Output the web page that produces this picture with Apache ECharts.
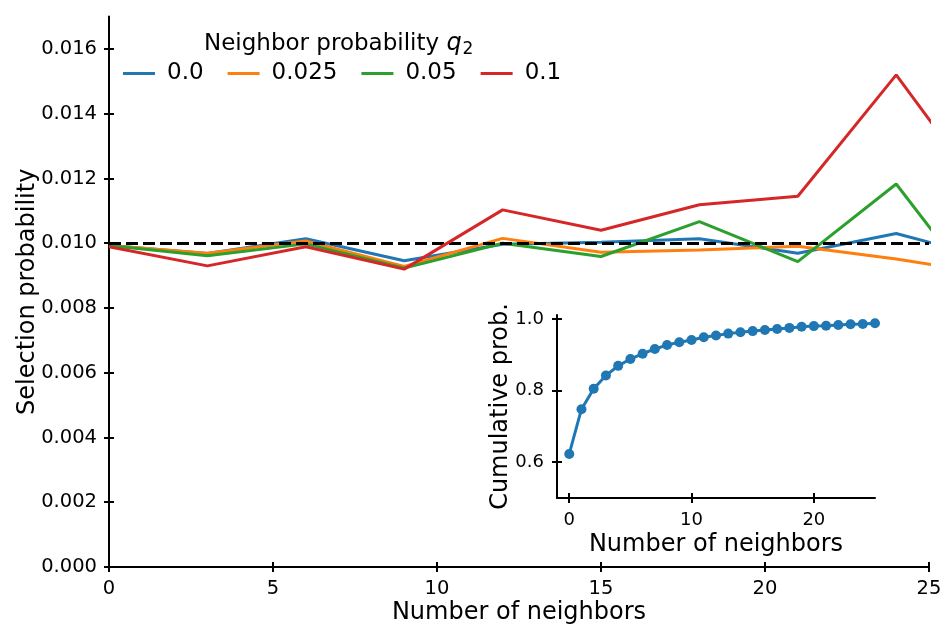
<!DOCTYPE html>
<html>
<head>
<meta charset="utf-8">
<script src="https://cdn.jsdelivr.net/npm/echarts@6/dist/echarts.min.js"></script>
<style>
html,body{margin:0;padding:0;background:#fff;}
#chart{width:943px;height:627px;}
</style>
</head>
<body>
<div id="chart"></div>
<script>
// ---- data ----
const neighbors = [0, 3, 6, 9, 12, 15, 18, 21, 24, 27];
const seriesNames = ['0.0', '0.025', '0.05', '0.1'];
const q0 = [0.00993, 0.00968, 0.01014, 0.00946, 0.00997, 0.01003, 0.01014, 0.00969, 0.01030, 0.00949];
const q025 = [0.00993, 0.00969, 0.01007, 0.00928, 0.01015, 0.00972, 0.00979, 0.00991, 0.00951, 0.00903];
const q05 = [0.00993, 0.00961, 0.00998, 0.00923, 0.01000, 0.00959, 0.01067, 0.00943, 0.01183, 0.00787];
const q1 = [0.00989, 0.00930, 0.00989, 0.00920, 0.01103, 0.01040, 0.01119, 0.01145, 0.01520, 0.01109];
const uniformProb = 0.01;
const mainXTicks = [0, 5, 10, 15, 20, 25];
const mainYTicks = [0, 0.002, 0.004, 0.006, 0.008, 0.010, 0.012, 0.014, 0.016];

const insetX = [0,1,2,3,4,5,6,7,8,9,10,11,12,13,14,15,16,17,18,19,20,21,22,23,24,25];
const insetCum = [0.623,0.748,0.805,0.842,0.869,0.888,0.903,0.916,0.927,0.935,0.941,0.949,0.954,0.959,0.963,0.966,0.969,0.972,0.975,0.978,0.980,0.981,0.983,0.985,0.986,0.988];
const insetXTicks = [0, 10, 20];
const insetYTicks = [0.6, 0.8, 1.0];

// ---- chart ----
const FONT = 'DejaVu Sans';
const colors = ['#1f77b4', '#ff7f0e', '#2ca02c', '#d62728'];
const mainSeries = [q0, q025, q05, q1];

function pairs(xs, ys) { return xs.map((x, i) => [x, ys[i]]); }

function visAxis(gridIndex, min, max, ticks, fmt, name, nameGap, pos, labelSize, margin) {
  return {
    type: 'value', gridIndex, min, max, position: pos,
    name, nameLocation: 'middle', nameGap, nameMoveOverlap: false,
    nameTextStyle: {fontFamily: FONT, fontSize: 24, color: '#000'},
    axisLine: {show: true, onZero: false, lineStyle: {color: '#000', width: 2}},
    axisTick: {show: true, length: 5, inside: false, lineStyle: {color: '#000', width: 2}, customValues: ticks},
    axisLabel: {show: true, fontFamily: FONT, fontSize: labelSize, color: '#000', margin: margin, customValues: ticks, formatter: fmt},
    splitLine: {show: false}
  };
}
function innerAxis(gridIndex, min, max, ticks, pos) {
  return {
    type: 'value', gridIndex, min, max, position: pos,
    axisLine: {show: false, onZero: false},
    axisTick: {show: true, length: 5, inside: true, lineStyle: {color: '#000', width: 2}, customValues: ticks},
    axisLabel: {show: false},
    splitLine: {show: false}
  };
}

const series = mainSeries.map((d, i) => ({
  name: seriesNames[i], type: 'line', xAxisIndex: 0, yAxisIndex: 0,
  data: pairs(neighbors, d), showSymbol: false, symbol: 'none',
  lineStyle: {color: colors[i], width: 3}, itemStyle: {color: colors[i]},
  clip: true, z: 2 + i, animation: false
}));
series.push({
  name: 'uniform', type: 'line', xAxisIndex: 0, yAxisIndex: 0, data: [], z: 10,
  markLine: {
    silent: true, symbol: ['none', 'none'], label: {show: false},
    lineStyle: {color: '#000', width: 3, type: [12, 5]},
    data: [{yAxis: uniformProb}], animation: false
  }
});
series.push({
  name: 'cumulative', type: 'line', xAxisIndex: 2, yAxisIndex: 2,
  data: pairs(insetX, insetCum), symbol: 'circle', symbolSize: 10, showSymbol: true,
  lineStyle: {color: colors[0], width: 3}, itemStyle: {color: colors[0]},
  clip: true, animation: false
});

const option = {
  backgroundColor: '#fff',
  animation: false,
  grid: [
    {left: 109, right: 14, top: 16.6, bottom: 60, containLabel: false, outerBoundsMode: 'none'},
    {left: 557, right: 68, top: 315, bottom: 129, containLabel: false, outerBoundsMode: 'none'}
  ],
  xAxis: [
    visAxis(0, 0, 25, mainXTicks, v => String(v), 'Number of neighbors', 34, 'bottom', 19.5, 12),
    innerAxis(0, 0, 25, mainXTicks, 'bottom'),
    visAxis(1, -1, 25, insetXTicks, v => String(v), 'Number of neighbors', 35, 'bottom', 18, 13),
    innerAxis(1, -1, 25, insetXTicks, 'bottom')
  ],
  yAxis: [
    visAxis(0, 0, 0.017, mainYTicks, v => v.toFixed(3), 'Selection probability', 69, 'left', 19.5, 12),
    innerAxis(0, 0, 0.017, mainYTicks, 'left'),
    visAxis(1, 0.5, 1.011, insetYTicks, v => v.toFixed(1), 'Cumulative prob.', 44, 'left', 18, 13),
    innerAxis(1, 0.5, 1.011, insetYTicks, 'left')
  ],
  legend: {
    left: 118, top: 57, orient: 'horizontal',
    data: seriesNames, icon: 'rect', itemWidth: 32, itemHeight: 3, itemGap: 24,
    textStyle: {fontFamily: FONT, fontSize: 23, color: '#000', padding: [0, 0, 0, 7]},
    selectedMode: false
  },
  graphic: [{
    type: 'text', left: 204, top: 32,
    style: {
      text: 'Neighbor probability {q|q}{s|2}',
      fontFamily: FONT, fontSize: 23, fill: '#000',
      rich: {
        q: {fontFamily: FONT, fontStyle: 'italic', fontSize: 24, fill: '#000'},
        s: {fontFamily: FONT, fontSize: 17, fill: '#000', verticalAlign: 'bottom', padding: [12, 0, 0, 1]}
      }
    }
  }],
  series
};

const chart = echarts.init(document.getElementById('chart'), null, {renderer: 'canvas'});
chart.setOption(option);
</script>
</body>
</html>
